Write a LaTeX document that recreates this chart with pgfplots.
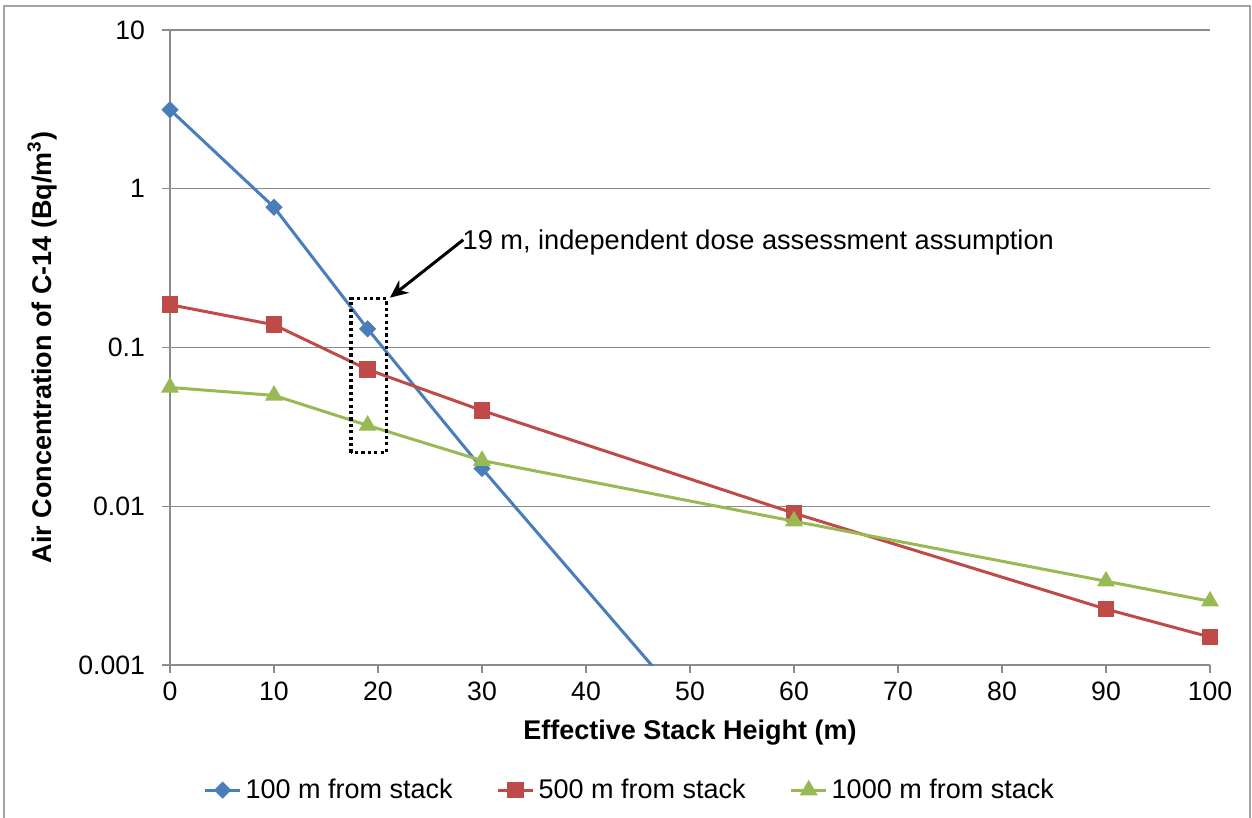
\documentclass[border=0pt]{standalone}
\usepackage{fontspec}
\setmainfont{Liberation Sans}
\usepackage{pgfplots}
\pgfplotsset{compat=1.18}
\usetikzlibrary{arrows.meta}
\definecolor{sblue}{HTML}{4A7EBB}
\definecolor{sred}{HTML}{BE4B48}
\definecolor{sgreen}{HTML}{98B954}
\definecolor{gridgray}{HTML}{8C8C8C}
\begin{document}
\begin{tikzpicture}
\path[use as bounding box] (0,0) rectangle (626pt,409pt);
\draw[gridgray!80, line width=0.6pt] (2pt,-2pt) -- (2pt,406pt) -- (625pt,406pt) -- (625pt,-2pt);
\begin{axis}[
  at={(85pt,76.5pt)}, anchor=south west,
  scale only axis, width=520pt, height=317.5pt,
  ymode=log, xmin=0, xmax=100, ymin=0.001, ymax=10,
  axis x line*=bottom, axis y line*=left,
  axis line style={gridgray, line width=0.6pt, -},
  xtick={0,10,...,100},
  ytick={0.001,0.01,0.1,1,10},
  yticklabels={0.001,0.01,0.1,1,10},
  minor ytick={}, yminorticks=false,
  ymajorgrids, major grid style={gridgray, line width=0.6pt},
  tick align=outside,
  major tick style={gridgray, line width=0.6pt},
  major tick length=4pt,
  tick label style={font=\fontsize{13.3}{15}\selectfont, text=black},
  /pgf/number format/assume math mode=true,
  yticklabel style={xshift=-5pt},
  xticklabel style={yshift=-1pt},
  every axis y label/.style={at={(axis description cs:-0.123,0.5)}, anchor=center, rotate=90},
  every axis x label/.style={at={(axis description cs:0.5,-0.107)}, anchor=center},
  label style={font=\fontsize{13.5}{16}\selectfont\bfseries},
  xlabel={Effective Stack Height (m)},
  ylabel={Air Concentration of C-14 (Bq/m\textsuperscript{3})},
  legend columns=3,
  legend style={at={(axis description cs:0.443,-0.197)}, anchor=center, draw=none, fill=none,
    font=\fontsize{13.5}{15}\selectfont, inner sep=0pt,
    /tikz/every even column/.append style={column sep=20pt}},
  legend image code/.code={\draw[mark repeat=2, mark phase=2] plot coordinates {(0pt,0pt) (8.75pt,0pt) (17.5pt,0pt)};},
  clip mode=individual,
]
\addplot[color=sblue, line width=1.5pt, mark=square*, mark size=2.3pt, mark options={rotate=45, solid}]
  coordinates {(0,3.15) (10,0.765) (19,0.131) (30,0.0173) (60,0.000091)};
\addlegendentry{100 m from stack}
\addplot[color=sred, line width=1.5pt, mark=square*, mark size=3.4pt, mark options={solid}]
  coordinates {(0,0.186) (10,0.139) (19,0.0727) (30,0.0401) (60,0.00904) (90,0.00225) (100,0.0015)};
\addlegendentry{500 m from stack}
\addplot[color=sgreen, line width=1.5pt, mark=triangle*, mark size=3.7pt, mark options={solid}]
  coordinates {(0,0.056) (10,0.0499) (19,0.0323) (30,0.0194) (60,0.00805) (90,0.00337) (100,0.00252)};
\addlegendentry{1000 m from stack}
\draw[black, line width=1.6pt, dash pattern=on 1.6pt off 1.6pt] (axis cs:17.4,0.0218) rectangle (axis cs:20.8,0.203);
\draw[black, line width=1.5pt, -{Stealth[length=9pt,width=8pt]}] (axis cs:28.2,0.477) -- (axis cs:21.15,0.206);
\node[anchor=west, inner sep=0pt, font=\fontsize{13.6}{15}\selectfont] at (axis cs:28.1,0.457) {19 m, independent dose assessment assumption};
\end{axis}
\end{tikzpicture}
\end{document}
